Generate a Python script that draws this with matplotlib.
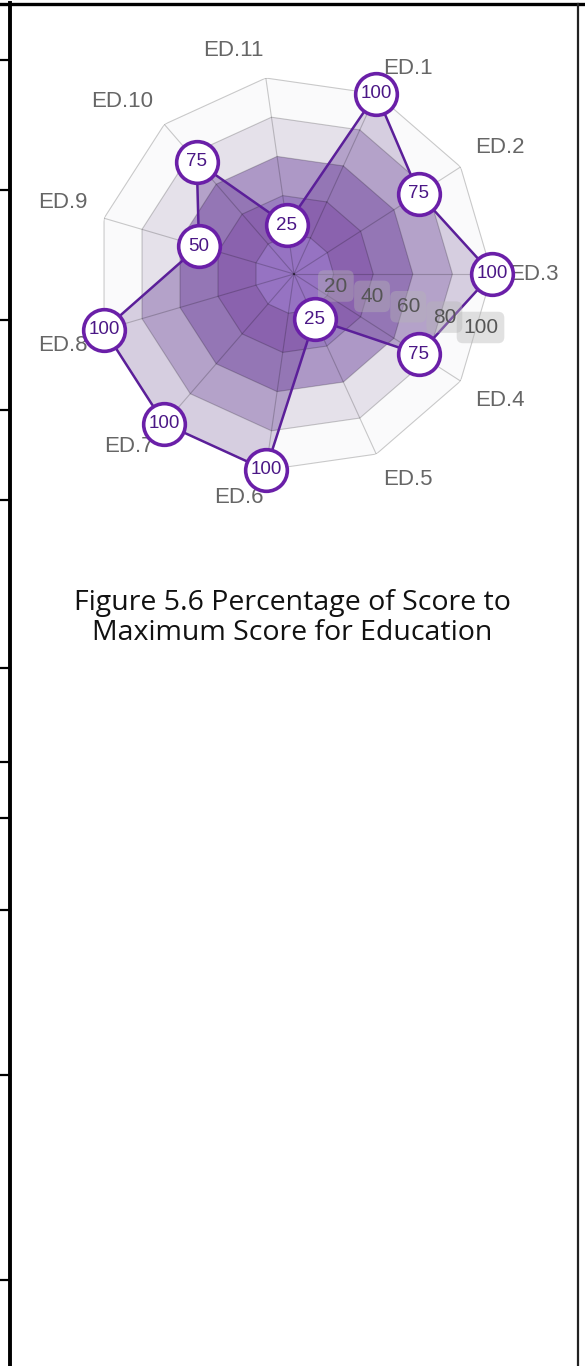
import numpy as np
import matplotlib
matplotlib.use("Agg")
import matplotlib.pyplot as plt
from matplotlib.lines import Line2D

# ---- data ----
categories = ["ED.1", "ED.2", "ED.3", "ED.4", "ED.5", "ED.6",
              "ED.7", "ED.8", "ED.9", "ED.10", "ED.11"]
scores = [100, 75, 100, 75, 25, 100, 100, 100, 50, 75, 25]
tick_values = [20, 40, 60, 80, 100]
caption = "Figure 5.6 Percentage of Score to\nMaximum Score for Education"

# ---- style ----
band_out = {100: '#fafafb', 80: '#e5e1ea', 60: '#ad98c6', 40: '#9a7ebf', 20: '#9a79c6'}
band_in = {100: '#d6cee0', 80: '#b4a2c9', 60: '#9476b5', 40: '#8a62ae', 20: '#9673c2'}
line_col = '#5b1f99'
mark_edge = '#6a1fa8'
num_col = '#4b1786'

W, H = 585, 1366
fig = plt.figure(figsize=(W / 100, H / 100), dpi=100)
fig.patch.set_facecolor('white')

cx, cy, R = 294, 274, 198
ax = fig.add_axes([(cx - R) / W, (H - cy - R) / H, 2 * R / W, 2 * R / H],
                  projection='polar')
n = len(categories)
offset = 2 * 2 * np.pi / n
ax.set_theta_offset(offset)
ax.set_theta_direction(-1)
ax.set_ylim(0, 100)
ax.axis('off')

theta = np.arange(n) * 2 * np.pi / n
tc = np.append(theta, theta[0])

# data polygon (used as clip)
vals_c = np.append(scores, scores[0])
clip_patch = ax.fill(tc, vals_c, facecolor='none', edgecolor='none', zorder=0)[0]

# background bands (outside and inside the data polygon)
for lvl in sorted(tick_values, reverse=True):
    ax.fill(tc, [lvl] * (n + 1), color=band_out[lvl], zorder=1, lw=0)
    p = ax.fill(tc, [lvl] * (n + 1), color=band_in[lvl], zorder=2, lw=0)[0]
    p.set_clip_path(clip_patch)

# grid
for lvl in tick_values:
    ax.plot(tc, [lvl] * (n + 1), color='black', alpha=0.2, lw=0.8, zorder=3)
for t in theta:
    ax.plot([t, t], [0, 100], color='black', alpha=0.2, lw=0.8, zorder=3)

# data outline
ax.plot(tc, vals_c, color=line_col, lw=1.8, zorder=4, clip_on=False)

# tick labels
tick_theta = offset + np.radians(16)
for v in tick_values:
    ax.text(tick_theta, v * 0.95 + 3, str(v), ha='center', va='center',
            fontsize=15, color='#555555', family='Liberation Sans', zorder=4.5,
            bbox=dict(boxstyle='round,pad=0.3', fc='#b5b5b5', ec='none', alpha=0.4))

# markers + values
ax.plot(theta, scores, 'o', ms=30, mfc='white', mec=mark_edge, mew=2.6,
        zorder=5, clip_on=False)
for t, v in zip(theta, scores):
    ax.text(t, v, str(v), ha='center', va='center', fontsize=13.5,
            color=num_col, family='Liberation Sans', zorder=6)

# category labels
for t, lab in zip(theta, categories):
    disp = offset - t
    c, s = np.cos(disp), np.sin(disp)
    ha = 'center' if abs(c) < 0.1 else ('left' if c > 0 else 'right')
    va = 'center' if abs(s) < 0.1 else ('bottom' if s > 0 else 'top')
    ax.text(t, 108.5, lab, ha=ha, va=va, fontsize=16, color='#666666',
            family='Liberation Sans', zorder=4.8)

# caption
fig.text(0.5, 1 - 618 / H, caption, ha='center', va='center', fontsize=20.5,
         family='Open Sans', color='#111111', linespacing=1.08,
         multialignment='center')

# table borders
def hline(y, x0, x1, lw, col='black'):
    fig.add_artist(Line2D([x0 / W, x1 / W], [1 - y / H, 1 - y / H],
                          transform=fig.transFigure, color=col, lw=lw))

def vline(x, y0, y1, lw, col='black'):
    fig.add_artist(Line2D([x / W, x / W], [1 - y0 / H, 1 - y1 / H],
                          transform=fig.transFigure, color=col, lw=lw))

hline(4, 0, W, 2.4)
vline(10, 3, H, 2.8)
vline(578, 4, H, 1.6, '#222222')
for y in [60, 190, 320, 410, 500, 668, 762, 818, 910, 1075, 1280]:
    hline(y, 0, 10, 1.6)

fig.savefig('out.png', dpi=100, facecolor='white')
